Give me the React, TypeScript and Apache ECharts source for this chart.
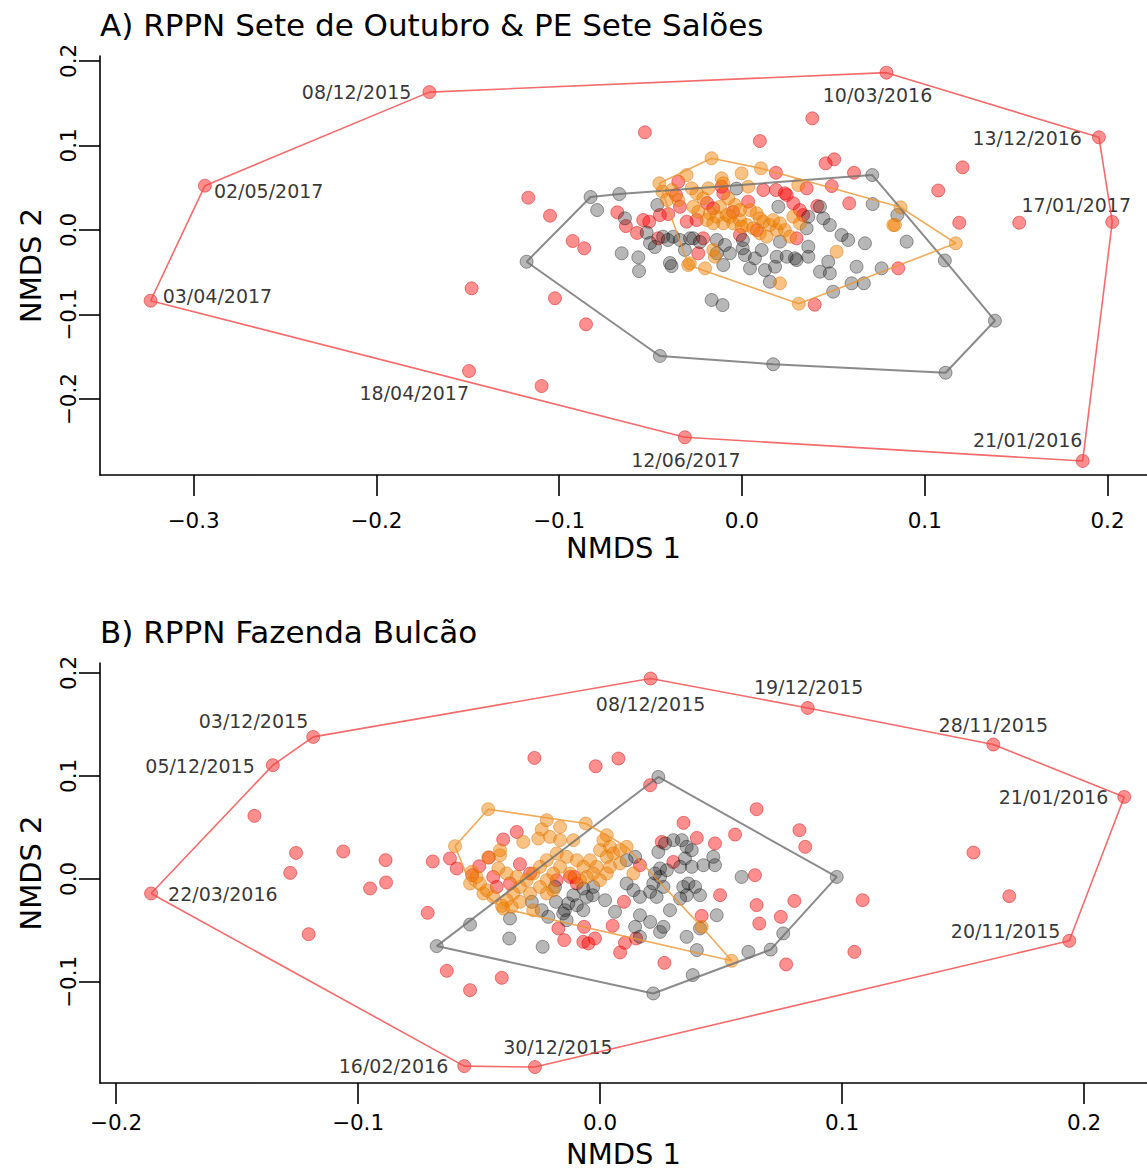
import React, { useEffect, useRef } from "react";
import * as echarts from "echarts";

// ---------------- Panel A data ----------------
const datesA = [
  "08/12/2015", "02/05/2017", "03/04/2017", "18/04/2017", "12/06/2017",
  "10/03/2016", "13/12/2016", "17/01/2017", "21/01/2016",
];
// first entries correspond to datesA
const redA: number[][] = [
  [-0.171, 0.163], [-0.2938, 0.0524], [-0.3235, -0.0836], [-0.1493, -0.1667], [-0.0312, -0.245],
  [0.0791, 0.186], [0.1953, 0.1096], [0.2026, 0.0095], [0.1864, -0.273],
  [-0.0531, 0.1155], [0.0098, 0.1052], [0.0385, 0.132], [-0.1169, 0.0382], [-0.105, 0.0169],
  [-0.0926, -0.013], [-0.0863, -0.0216], [-0.1023, -0.0807], [-0.0853, -0.1115], [-0.1096, -0.1844],
  [-0.1479, -0.0689], [-0.0682, 0.0209], [-0.0635, 0.0047], [-0.054, 0.0118], [-0.0507, 0.0098],
  [-0.0458, -0.0098], [-0.0403, 0.0189], [-0.0348, 0.0571], [-0.0361, 0.0414], [-0.0339, 0.0275],
  [-0.0302, 0.0098], [-0.0239, -0.0275], [-0.0212, -0.0098], [-0.0248, 0.0118], [-0.0157, 0.0256],
  [-0.0111, 0.0512], [-0.0102, 0.0434], [-0.0011, -0.0059], [0.0034, 0.0335], [0.0117, 0.0473],
  [0.0186, 0.0677], [0.0186, 0.0473], [0.0245, 0.0414], [0.0281, 0.0316], [0.0317, 0.0236],
  [0.0354, 0.0493], [0.0412, 0.0284], [0.0491, 0.052], [0.0587, 0.0316], [0.0613, 0.0677],
  [0.0458, 0.0788], [0.0505, 0.0836], [0.1074, 0.0467], [0.1207, 0.0741], [0.1189, 0.0086],
  [0.1517, 0.0086], [0.0855, -0.0453], [0.0398, -0.0883], [0.0299, -0.0098], [0.0335, 0.0177],
  [0.0235, 0.0434], [0.0082, 0], [-0.0049, 0.0213], [-0.0191, 0.0319], [-0.0449, 0.0177],
  [-0.0574, -0.0035],
];
const grayA: number[][] = [
  [-0.1178, -0.0375], [-0.0828, 0.039], [-0.0671, 0.0425], [0.0713, 0.065], [0.1384, -0.1072],
  [0.1114, -0.1687], [0.0171, -0.1587], [-0.0449, -0.1489],
  [-0.0792, 0.0236], [-0.064, 0.0138], [-0.0463, 0.0296], [-0.0521, -0.0032], [-0.0658, -0.0275],
  [-0.0567, -0.0323], [-0.0563, -0.0485], [-0.0385, -0.0426], [-0.0431, -0.0079], [-0.0376, -0.0079],
  [-0.0339, -0.0118], [-0.0284, -0.0098], [-0.0312, -0.0236], [-0.0138, -0.0118], [-0.0093, -0.0177],
  [-0.0138, -0.0275], [-0.0066, -0.0275], [-0.0102, -0.0414], [0.0004, -0.0216], [0.0016, -0.0296],
  [0.0071, -0.0335], [0.0108, -0.0236], [0.0044, -0.0453], [0.0126, -0.0473], [0.0181, -0.0434],
  [0.019, -0.0316], [0.0245, -0.0316], [0.029, -0.0335], [0.0363, -0.0316], [0.0363, -0.0197],
  [0.0153, -0.0611], [0.0199, 0.0275], [0.0208, -0.0138], [0.0363, 0.0157], [0.0354, 0.002],
  [0.0427, 0.0275], [0.0445, 0.0138], [0.0481, 0.0059], [0.0545, -0.0059], [0.0581, -0.0118],
  [0.0673, -0.0157], [0.0715, 0.0307], [0.0901, -0.0138], [0.085, 0.0177], [0.0427, -0.0493],
  [0.0481, -0.0512], [0.0472, -0.0375], [0.0627, -0.0434], [0.0764, -0.0453], [0.06, -0.063],
  [0.0667, -0.063], [0.0499, -0.0729], [-0.0166, -0.0827], [-0.0106, -0.0887], [0.111, -0.036],
  [-0.003, 0.049], [-0.0266, -0.0098], [-0.023, -0.0142], [-0.0394, -0.039], [0.0299, -0.0355],
  [-0.0503, -0.0154], [-0.0476, -0.0201], [-0.0405, -0.0118], [0.0005, -0.0118],
];
const orangeA: number[][] = [
  [-0.0166, 0.0848], [0.0104, 0.0729], [0.0868, 0.0268], [0.117, -0.0157], [0.0311, -0.0871],
  [-0.0202, -0.0453], [-0.0294, -0.0414], [-0.0452, 0.0552], [-0.0303, 0.065],
  [-0.0435, 0.0453], [-0.0111, 0.0611], [-0.0102, 0.0552], [-0.0002, 0.067], [0.0034, 0.0512],
  [0.0308, 0.0532], [0.0828, 0.0059], [0.0518, -0.0256], [0.0208, -0.063], [-0.0148, -0.0316],
  [-0.0157, -0.0236], [-0.0239, 0.0216], [-0.0212, 0.0375], [-0.0193, 0.0118], [-0.0138, 0.0157],
  [-0.0084, 0.0177], [-0.0048, 0.0079], [-0.0011, 0.0118], [0.0026, 0.0059], [0.008, 0.0197],
  [0.0117, 0.0098], [0.0153, 0.0059], [0.019, 0], [0.0235, 0], [0.0263, -0.0079],
  [0.0317, 0.0079], [0.0281, 0.0157], [-0.0266, 0.0275], [-0.0248, 0.0434], [-0.0175, 0.0197],
  [-0.0102, 0.0079], [-0.0066, 0.0157], [-0.0002, 0.0039], [0.0062, 0.002], [0.0098, -0.0039],
  [0.0135, -0.0079], [0.0044, 0.0236], [-0.0038, 0.0296], [-0.0075, 0.0375], [-0.0184, 0.0493],
  [-0.0275, 0.0493], [-0.0348, 0.0355], [-0.012, 0.0275], [-0.0157, 0.0079], [-0.0011, 0.0236],
  [0.0171, 0.0118], [0.0208, 0.0079], [0.0098, 0.0138], [-0.041, 0.0355], [-0.0383, 0.0473],
  [-0.0285, -0.0394], [0.0837, 0.0059],
];

// ---------------- Panel B data ----------------
const datesB = [
  "03/12/2015", "05/12/2015", "22/03/2016", "16/02/2016", "30/12/2015",
  "08/12/2015", "19/12/2015", "28/11/2015", "21/01/2016", "20/11/2015",
];
const redB: number[][] = [
  [-0.1185, 0.1379], [-0.1352, 0.1104], [-0.1855, -0.0142], [-0.0561, -0.1819], [-0.0269, -0.1828],
  [0.0209, 0.1946], [0.0858, 0.166], [0.1625, 0.1305], [0.2166, 0.0796], [0.1939, -0.0602],
  [-0.1428, 0.0612], [-0.1256, 0.0252], [-0.128, 0.0058], [-0.1061, 0.0266], [-0.0886, 0.0182],
  [-0.0884, -0.0035], [-0.095, -0.0093], [-0.1204, -0.0537], [-0.0691, 0.0169], [-0.0712, -0.033],
  [-0.062, 0.0198], [-0.0592, 0.0101], [-0.0633, -0.0893], [-0.0537, -0.1081], [-0.0406, -0.0961],
  [-0.0271, 0.1175], [-0.0018, 0.1094], [0.0076, 0.1169], [0.0207, 0.091],
  [-0.0344, 0.0456], [-0.04, 0.0383], [-0.0459, 0.0208], [-0.0499, 0.0123], [-0.0528, 0.0036],
  [-0.0331, 0.0143], [-0.0441, 0.0019], [-0.0427, -0.0078], [-0.0372, -0.0045], [-0.0289, 0.0052],
  [-0.0179, -0.0013], [-0.0124, 0.0019], [-0.0096, -0.0045], [0.0165, 0.0133], [0.0099, -0.0223],
  [0.0052, -0.0456], [-0.0172, -0.0482], [-0.0148, -0.0595], [-0.0066, -0.0466], [-0.0069, -0.0612],
  [-0.0048, -0.0627], [-0.0021, -0.0579], [0.0103, -0.0621], [0.0083, -0.0715], [0.0149, -0.0579],
  [0.0266, -0.0816], [0.0255, 0.0359], [0.0345, 0.0544], [0.04, 0.0398], [0.0475, 0.0344],
  [0.0558, 0.0431], [0.0647, 0.0677], [0.0303, 0.0165], [0.0496, -0.0158], [0.042, -0.0359],
  [0.064, 0.0036], [0.0647, -0.0255], [0.0658, -0.0434], [0.0824, 0.0473], [0.0848, 0.0311],
  [0.0803, -0.0214], [0.0747, -0.0369], [0.1085, -0.0207], [0.0769, -0.0831], [0.1051, -0.0709],
  [0.1543, 0.0256], [0.1691, -0.0168], [-0.0106, 0.0019],
];
const grayB: number[][] = [
  [0.0241, 0.099], [0.0978, 0.0019], [0.0757, -0.053], [0.0705, -0.0687], [0.0383, -0.0935],
  [0.022, -0.1113], [-0.0675, -0.0653], [-0.0537, -0.0443],
  [-0.0372, -0.0385], [-0.0375, -0.0579], [-0.0237, -0.066], [-0.0282, -0.0223], [-0.0214, -0.0369],
  [-0.0182, -0.0223], [-0.0145, -0.0304], [-0.0131, -0.0239], [-0.0096, -0.0256], [-0.0069, -0.0304],
  [-0.0055, -0.0175], [-0.003, -0.0159], [-0.0028, -0.0078], [-0.0069, -0.0093], [-0.011, -0.0159],
  [-0.0152, -0.0336], [-0.0138, -0.0401], [0.0062, -0.032], [0.011, -0.0045], [0.0138, -0.011],
  [0.0165, -0.0175], [0.0145, 0.0214], [0.011, 0.0182], [0.0165, -0.0353], [0.0207, -0.0418],
  [0.0145, -0.0466], [0.0248, -0.0515], [0.0262, -0.0466], [0.0207, -0.0126], [0.022, -0.0045],
  [0.0234, -0.0175], [0.0248, 0.0019], [0.0262, -0.0078], [0.0248, 0.0101], [0.0227, 0.0052],
  [0.0276, 0.0084], [0.0241, 0.0262], [0.0269, 0.0344], [0.0303, 0.0376], [0.0338, 0.0376],
  [0.0358, 0.0311], [0.0379, 0.0279], [0.0351, 0.0198], [0.0331, 0.0117], [0.0379, 0.0117],
  [0.0427, 0.0133], [0.0468, 0.0214], [0.0475, 0.0133], [0.0344, -0.0078], [0.0365, -0.0045],
  [0.0393, -0.0078], [0.0358, -0.0159], [0.0331, -0.0191], [0.0413, -0.0159], [0.0289, -0.0304],
  [0.0358, -0.0563], [0.0413, -0.0482], [0.0482, -0.0353], [0.04, -0.0692], [0.0585, 0.0019],
  [0.0613, -0.0709], [0.0165, -0.0563], [-0.0241, -0.0304], [-0.0186, -0.0078], [0.0021, -0.0207],
];
const orangeB: number[][] = [
  [-0.0462, 0.0677], [-0.0599, 0.0318], [-0.0059, 0.0538], [0.0028, 0.0424], [0.011, 0.0311],
  [0.0544, -0.0796], [-0.0276, -0.0304], [-0.04, -0.0288], [-0.0482, -0.0142], [-0.0537, -0.0045],
  [-0.022, 0.057], [-0.0165, 0.0505], [-0.0241, 0.048], [-0.0255, 0.0392], [-0.0207, 0.0408],
  [-0.0165, 0.0376], [-0.011, 0.0376], [-0.0413, 0.023], [-0.0317, 0.0359], [-0.0462, 0.0208],
  [0.0014, 0.0376], [0.0041, 0.0311], [0, 0.0279], [0.0028, 0.0214], [0.0055, 0.0247],
  [0.0083, 0.0279], [-0.0041, 0.0182], [-0.0014, 0.0117], [-0.0069, 0.0117], [-0.0096, 0.0182],
  [-0.0138, 0.0214], [-0.0179, 0.0247], [-0.022, 0.0182], [-0.0248, 0.0117], [-0.0276, 0.0052],
  [-0.0303, -0.0013], [-0.0331, -0.0078], [-0.0358, -0.0142], [-0.0386, -0.0207], [-0.0405, -0.0262],
  [-0.0441, -0.0175], [-0.0468, -0.011], [-0.0496, -0.0045], [-0.051, 0.0019], [-0.053, 0.0068],
  [-0.042, 0.0101], [-0.0386, 0.0052], [-0.0344, 0.0019], [-0.0289, -0.0142], [-0.022, -0.0142],
  [-0.0193, -0.011], [-0.0028, 0.0052], [0, -0.0013], [0.0028, 0.0052], [0.0041, 0.0117],
  [-0.0055, 0.0019], [-0.0083, -0.0013], [-0.0124, 0.0052], [-0.0165, 0.0117], [-0.0193, 0.0052],
  [-0.022, -0.0013], [-0.0248, -0.0078], [0.0138, 0.0052], [0.0083, 0.015], [-0.0413, 0.0279],
  [-0.0331, -0.0223], [-0.0365, -0.0272], [0.042, -0.0466],
];

// ---------------- ticks ----------------
const xTicksA = [-0.3, -0.2, -0.1, 0, 0.1, 0.2];
const yTicksA = [-0.2, -0.1, 0, 0.1, 0.2];
const xTicksB = [-0.2, -0.1, 0, 0.1, 0.2];
const yTicksB = [-0.1, 0, 0.1, 0.2];
const titleA = "A) RPPN Sete de Outubro & PE Sete Salões";
const titleB = "B) RPPN Fazenda Bulcão";

// label placement (style only)
const labelStyleA = [
  { position: "left", distance: 11, offset: [0, 0] },
  { position: "right", distance: 2, offset: [0, 5] },
  { position: "right", distance: 5, offset: [0, -5] },
  { position: "left", distance: 0, offset: [7, 22] },
  { position: "bottom", distance: 6, offset: [1, 0] },
  { position: "bottom", distance: 6, offset: [-9, 0] },
  { position: "left", distance: 10, offset: [0, 1] },
  { position: "top", distance: 0, offset: [-36, 0] },
  { position: "top", distance: 4, offset: [-55, 0] },
];
const labelStyleB = [
  { position: "left", distance: 0, offset: [2, -16] },
  { position: "left", distance: 11, offset: [0, 1] },
  { position: "right", distance: 10, offset: [0, 1] },
  { position: "left", distance: 9, offset: [0, 0] },
  { position: "top", distance: 4, offset: [23, 0] },
  { position: "bottom", distance: 9, offset: [0, 0] },
  { position: "top", distance: 4, offset: [1, 0] },
  { position: "top", distance: 3, offset: [0, 0] },
  { position: "left", distance: 9, offset: [0, 0] },
  { position: "left", distance: 2, offset: [0, -10] },
];

const FONT = "DejaVu Sans";

function convexHull(pts: number[][]): number[][] {
  const p = pts.slice().sort((a, b) => a[0] - b[0] || a[1] - b[1]);
  const cross = (o: number[], a: number[], b: number[]) =>
    (a[0] - o[0]) * (b[1] - o[1]) - (a[1] - o[1]) * (b[0] - o[0]);
  const lower: number[][] = [];
  for (const q of p) {
    while (lower.length >= 2 && cross(lower[lower.length - 2], lower[lower.length - 1], q) <= 0) lower.pop();
    lower.push(q);
  }
  const upper: number[][] = [];
  for (let i = p.length - 1; i >= 0; i--) {
    const q = p[i];
    while (upper.length >= 2 && cross(upper[upper.length - 2], upper[upper.length - 1], q) <= 0) upper.pop();
    upper.push(q);
  }
  upper.pop();
  lower.pop();
  const h = lower.concat(upper);
  h.push(h[0]);
  return h;
}

const fmt = (v: number) => {
  const r = Math.round(v * 10) / 10;
  if (Math.abs(r) < 1e-9) return "0.0";
  return (r < 0 ? "\u2212" : "") + Math.abs(r).toFixed(1);
};

const STY = {
  red: { color: "rgba(255,0,0,0.55)", borderColor: "rgba(205,0,0,0.55)", borderWidth: 1 },
  gray: { color: "rgba(30,30,30,0.4)", borderColor: "rgba(0,0,0,0.45)", borderWidth: 1 },
  orange: { color: "rgba(240,128,0,0.6)", borderColor: "rgba(215,110,0,0.55)", borderWidth: 1 },
};
const HULL = {
  red: { color: "rgba(240,70,70,0.8)", width: 1.6 },
  gray: { color: "rgba(110,110,110,0.8)", width: 2 },
  orange: { color: "rgba(235,150,50,0.8)", width: 1.6 },
};

function panelSeries(
  idx: number,
  red: number[][],
  dates: string[],
  labelStyle: any[],
  gray: number[][],
  orange: number[][]
) {
  const redData = red.map((p, i) => {
    if (i < dates.length) {
      const ls = labelStyle[i];
      return {
        value: p,
        label: {
          show: true,
          formatter: dates[i],
          position: ls.position,
          distance: ls.distance,
          offset: ls.offset,
          fontSize: 19,
          fontFamily: FONT,
          color: "#000",
        },
      };
    }
    return { value: p };
  });
  const sc = (name: string, data: any[], st: any) => ({
    type: "scatter",
    name,
    xAxisIndex: idx,
    yAxisIndex: idx,
    symbol: "circle",
    symbolSize: 13,
    data,
    itemStyle: st,
    emphasis: { disabled: true },
  });
  const ln = (name: string, pts: number[][], st: any) => ({
    type: "line",
    name,
    xAxisIndex: idx,
    yAxisIndex: idx,
    data: convexHull(pts),
    symbol: "none",
    showSymbol: false,
    smooth: false,
    lineStyle: st,
    silent: true,
    z: 3,
  });
  return [
    sc("red", redData, STY.red),
    sc("gray", gray.map((p) => ({ value: p })), STY.gray),
    sc("orange", orange.map((p) => ({ value: p })), STY.orange),
    ln("redHull", red, HULL.red),
    ln("grayHull", gray, HULL.gray),
    ln("orangeHull", orange, HULL.orange),
  ];
}

function xAxisCfg(idx: number, min: number, max: number, ticks: number[], nameGap: number, labelMargin: number) {
  return {
    gridIndex: idx,
    type: "value",
    min,
    max,
    axisLine: { show: true, onZero: false, lineStyle: { color: "#000", width: 1.6 } },
    axisTick: { show: true, inside: false, length: 21, customValues: ticks, lineStyle: { color: "#000", width: 1.6 } },
    axisLabel: {
      show: true,
      customValues: ticks,
      formatter: fmt,
      margin: labelMargin,
      fontSize: 21.5,
      lineHeight: 20,
      fontFamily: FONT,
      color: "#000",
    },
    splitLine: { show: false },
    name: "NMDS 1",
    nameLocation: "middle",
    nameGap,
    nameTextStyle: { fontSize: 29, lineHeight: 24, fontFamily: FONT, color: "#000" },
  };
}
function yAxisCfg(idx: number, min: number, max: number, ticks: number[]) {
  return {
    gridIndex: idx,
    type: "value",
    min,
    max,
    axisLine: { show: true, onZero: false, lineStyle: { color: "#000", width: 1.6 } },
    axisTick: { show: true, inside: false, length: 21, customValues: ticks, lineStyle: { color: "#000", width: 1.6 } },
    axisLabel: {
      show: true,
      customValues: ticks,
      formatter: fmt,
      rotate: 90,
      margin: 22,
      fontSize: 21.5,
      lineHeight: 20,
      fontFamily: FONT,
      color: "#000",
    },
    splitLine: { show: false },
    name: "NMDS 2",
    nameLocation: "middle",
    nameRotate: 90,
    nameGap: 57,
    nameTextStyle: { fontSize: 29, lineHeight: 24, fontFamily: FONT, color: "#000" },
  };
}

export default function App() {
  const ref = useRef<HTMLDivElement>(null);
  useEffect(() => {
    if (!ref.current) return;
    const chart = echarts.init(ref.current, undefined, { renderer: "svg" });
    chart.setOption({
      animation: false,
      backgroundColor: "#ffffff",
      grid: [
        { left: 100, top: 56, width: 1047, height: 419 },
        { left: 100, top: 663, width: 1047, height: 420 },
      ],
      xAxis: [
        xAxisCfg(0, -0.3512, 0.2216, xTicksA, 61, 35),
        xAxisCfg(1, -0.2066, 0.226, xTicksB, 59, 29),
      ],
      yAxis: [yAxisCfg(0, -0.2896, 0.2057, yTicksA), yAxisCfg(1, -0.1983, 0.2097, yTicksB)],
      graphic: [
        { type: "text", left: 100, top: 9, style: { text: titleA, fontSize: 31, fontFamily: FONT, fill: "#000" } },
        { type: "text", left: 100, top: 616, style: { text: titleB, fontSize: 31, fontFamily: FONT, fill: "#000" } },
      ],
      series: [
        ...panelSeries(0, redA, datesA, labelStyleA, grayA, orangeA),
        ...panelSeries(1, redB, datesB, labelStyleB, grayB, orangeB),
      ],
    });
    return () => chart.dispose();
  }, []);
  return (
    <div
      ref={ref}
      style={{ position: "absolute", left: 0, top: 0, width: 1147, height: 1171, background: "#fff" }}
    />
  );
}
